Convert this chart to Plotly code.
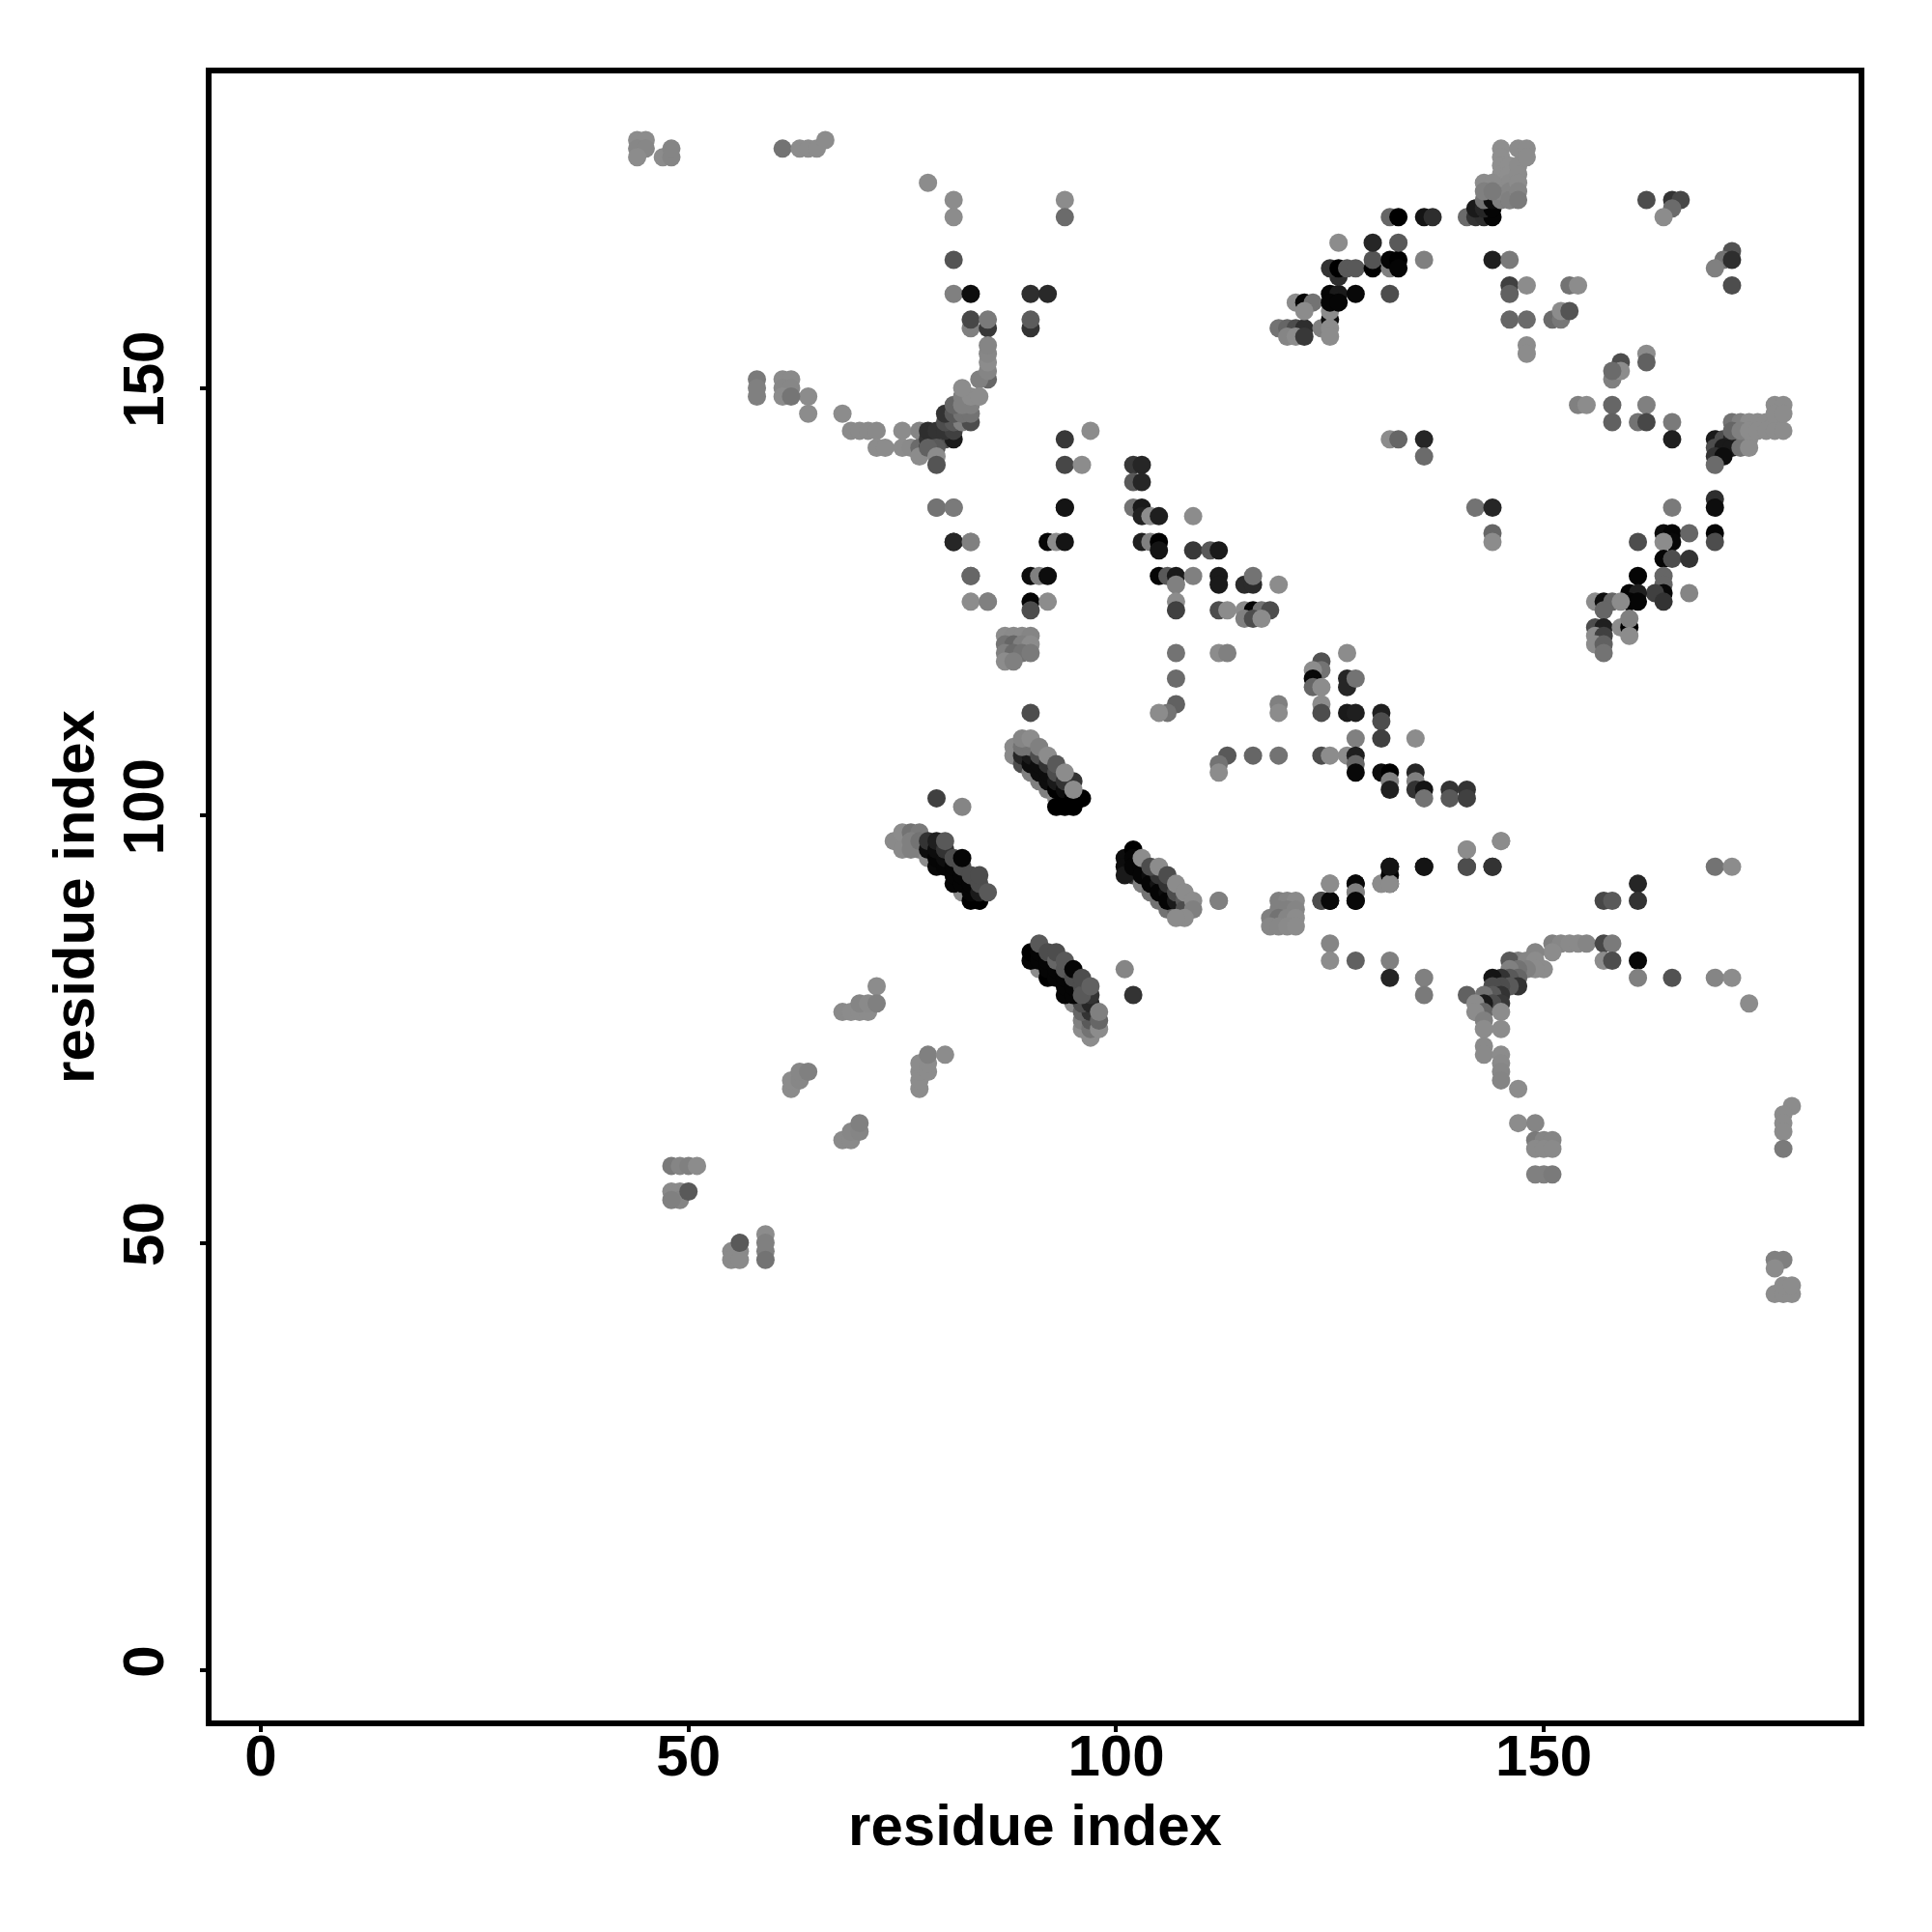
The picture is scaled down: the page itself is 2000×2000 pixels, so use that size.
import plotly.graph_objects as go

residue_x = [
 44,45,44,45,44,47,48,48, 61,63,64,65,66,
 78,81,81,81,81,83,90,92,94,94, 83,85,90,83,85,90, 85,84,85,85,85,85,
 69,70,71,72,75,77,72,73,75,76,77,68,64,64,58,58,58,61,62,61,62,61,62,
 78,79,80,81,78,79,80,81,78,79,77,78,79,79,80,81,82,83,80,81,82,83,81,82,83,82,83,84,82,
 94,94,96,97,79,81,94,81,83,83,85,
 119,120,121,122,120,121,122,124,125,125,125,125,121,122,123,122,125,126,125,126,128,132,
 126,125,126,127,128,130,130,130,132,132,133,133,133,136,126,
 132,133,136,137,141,142,143,144,142,143,144,143,144,145,146,
 145,145,145,145,145,145,146,146,146,146,146,147,147,147,147,147,147,148,148,143,144,143,144,
 144,146,146,146,148,153,154,146,148,151,152,152,153,148,148,
 162,165,166,165,164,172,171,172,170,172,162,162,159,158,159,158,154,155,158,162,158,161,162,165,165,
 132,133,136,136,
 170,171,172,173,174,170,171,172,173,174,170,171,170,172,173,174,175,176,177,172,173,174,175,176,177,178,177,178,177,178,
 142,144,144,144,165,170,170,170,170,161,164,165,165,164,167,164,165,167,
 161,164,164,164,163,164,167,160,161,160,161,
 156,157,158,159,157,156,157,159,160,160,160,156,157,156,157,157,
 102,103,102,103,102,103,103,104,105,109,103,104,105,105,109,111,112,
 105,106,107,107,109,112,112,115,116,116,119,
 107,107,112,113,115,116,117,118,115,116,117,107,107,112,113,
 83,81,83,83,85,79,81,90,91,92,92,93,94,90,90,92,94,
 87,88,89,90,87,88,89,90,87,88,89,90,87,88,
 127,124,124,123,123,123,124,127,127,128,107,106,105,90,119,119,124,124,127,128,131,131,128,131,135,
 113,112,112,116,119,124,125,127,128,128,128,131,132,132,132,135,135,135,136,136,139,139,141,141,
 141,145,141,144,136,132,132,131,132,128,128,128,125,125,124,112,
 88,88,89,90,91,92,93, 89,90,91,92,93,94, 90,91,92,93,94,95, 89,90,91,92,93,94, 93,94,95,96, 95,89,90,91,92,93,94,95,
 74,75,75,76,77,76,77,76,77, 78,82, 79,81,83,84, 78,79,80,81,82,83, 78,79,80,81,82,83,84, 79,80,81,82,83,84,85, 80,82,84, 79,82,
 102,103,104,105,106,107, 101,101,101,102,102,102,103,103,104,104,105,105,106,106,107, 105,106,107,108,108, 103,104,105,106,107,108,109,109,108,107,112,
 91,95, 97,96,96,97,97,96,97,96,97, 90,92,94, 90,91,92,93,94,95, 91,92,93,94,95, 91,92,93,94,95,96,97, 96, 93,94,95,96,97, 98,98,98,
 101,102,
 119,120,121,119,120,121,118,119,120,121,118,119,120,121,
 124,125,125,128,128,128,131,132,132,132,136,141,141,144,145,157,158,161,161,170,172,
 125,125,128,132,132,136,136,141,
 151,152,153,154,155,157,158,157,158,161,161,165,170,172,174,
 151,149,147,146,148,149,150,149,148,147,146,147,146,145,144,147,146,145,144,145,144,143,145,144,143,142,143,142,145,143,143,145,143,143,145,145,145,145,147,147,149,
 149,150,151,149,150,151,149,150,151, 179,178,178,178,178,
 177,178,177,177,178,179,178,179,
 48,49,50,51,48,49,49,48,50, 55,56,55,56,56,59,59,59,59,
 72,68,69,70,71,70,71,72, 77,77,77,77,78,78,78,80,
 62,62,63,63,64, 68,69,69,70,70,
]

residue_y = [
 179,179,178,178,177,177,177,178, 178,178,178,178,179,
 174,172,170,165,161,161,161,161,172,170, 157,157,157,158,158,158, 151,151,152,153,154,155,
 145,145,145,145,145,145,143,143,143,143,143,147,149,147,151,150,149,151,151,150,150,149,149,
 144,144,144,144,145,145,145,145,143,143,142,143,142,141,146,146,146,146,147,147,147,147,148,148,148,149,149,149,150,
 144,141,141,145,136,136,136,132,132,128,125,
 157,157,157,157,156,156,156,157,158,157,156,159,160,160,160,159,161,161,160,160,161,161,
 163,164,164,164,164,164,165,167,164,165,165,164,167,165,167,
 170,170,170,170,170,170,170,170,171,171,171,172,172,172,172,
 178,177,176,175,174,173,176,175,174,173,172,178,176,175,174,173,172,178,177,174,174,173,173,
 165,165,162,161,162,162,162,158,158,158,158,159,159,155,154,
 172,172,172,171,170,166,165,165,164,162,154,153,153,151,152,152,148,148,148,148,146,146,146,146,144,
 144,144,144,142,
 144,144,144,144,144,143,143,143,143,143,142,142,141,146,146,146,146,146,146,145,145,145,145,145,145,145,148,148,147,147,
 136,136,133,132,136,137,136,133,132,132,133,133,132,132,133,130,130,130,
 128,128,127,126,126,125,126,126,126,125,125,
 125,125,125,125,124,122,122,122,122,123,121,121,121,120,120,119,
 141,141,139,139,136,136,135,135,135,135,132,132,132,131,131,131,131,
 128,128,128,127,128,128,127,127,127,128,127,
 125,124,124,124,124,124,124,124,123,123,123,119,116,119,119,
 128,132,132,125,125,136,136,128,128,128,132,132,132,125,124,125,136,
 121,121,121,121,120,120,120,120,119,119,119,119,118,118,
 119,118,117,117,116,115,115,116,115,116,113,112,112,112,113,112,113,112,112,112,112,111,109,109,109,
 107,106,105,107,107,107,107,107,107,106,105,105,105,104,103,105,104,103,103,102,103,102,103,102,
 96,97,94,94,94,94,93,92,92,92,91,90,92,90,90,90,
 108,107,106,105,104,103,102, 107,106,105,104,103,102, 107,106,105,104,103,102, 108,108,107,106,105,104, 101,101,101,102, 104,109,109,108,107,106,105,103,
 97,98,96,98,98,96,96,97,97, 95,91, 94,92,90,90, 96,95,94,93,92,91, 97,96,95,94,93,92,91, 97,96,95,94,93,92,91, 97,95,93, 102,101,
 93,92,91,90,89,89, 95,94,93,96,95,94,94,93,93,92,92,91,91,90,90, 93,92,91,90,89, 95,94,94,93,92,91,90,89,88,88,90,
 82,78, 74,75,76,75,76,77,77,78,78, 83,81,79, 84,83,82,81,80,79, 84,83,82,81,80, 85,84,83,82,81,80,79, 79, 84,83,82,81,80, 75,76,77,
 82,79,
 90,90,90,89,89,89,88,88,88,88,87,87,87,87,
 90,90,92,92,91,90,92,93,92,94,94,94,96,94,97,90,90,92,90,94,94,
 85,83,83,83,81,81,79,79,
 85,85,85,85,85,85,85,83,83,83,81,81,81,81,78,
 84,84,83,83,83,83,82,82,82,82,82,81,81,81,81,80,80,80,80,79,79,79,78,78,78,78,77,77,77,76,75,75,73,72,72,71,70,69,68,64,64,
 62,62,62,61,61,61,58,58,58, 66,65,64,63,61,
 48,48,47,44,44,44,45,45,
 59,59,59,59,56,56,55,55,56, 49,49,48,48,50,51,50,49,48,
 80,77,77,77,77,78,78,78, 68,69,70,71,70,71,72,72,
 68,69,69,70,70, 62,62,63,63,64,
]

contact_shade = [
 .55,.55,.53,.53,.55,.55,.52,.52, .45,.55,.55,.55,.55,
 .55,.55,.55,.33,.50,.05,.18,.16,.55,.42, .50,.22,.20,.28,.48,.36, .40,.50,.52,.55,.53,.52,
 .54,.54,.54,.54,.55,.52,.55,.55,.55,.54,.42,.55,.55,.55,.48,.50,.50,.54,.54,.53,.53,.55,.46,
 .20,.25,.30,.10,.18,.20,.20,.25,.10,.35,.55,.38,.55,.33,.30,.35,.50,.30,.20,.35,.45,.45,.40,.50,.50,.50,.55,.55,.55,
 .22,.28,.55,.55,.45,.48,.08,.15,.50,.40,.55,
 .45,.40,.30,.18,.52,.55,.22,.50,.05,.55,.55,.55,.55,.02,.45,.55,.02,.10,.02,.02,.03,.30,
 .18,.20,.00,.35,.35,.00,.33,.15,.50,.02,.00,.02,.35,.50,.55,
 .40,.00,.08,.18,.42,.20,.18,.02,.10,.15,.02,.45,.05,.50,.45,
 .56,.56,.56,.56,.56,.52,.56,.56,.55,.52,.50,.55,.55,.55,.55,.52,.48,.55,.55,.55,.55,.50,.48,
 .12,.48,.25,.38,.55,.45,.55,.40,.42,.42,.47,.55,.33,.55,.55,
 .30,.20,.28,.42,.55,.32,.45,.18,.50,.30,.55,.38,.30,.50,.55,.42,.50,.55,.40,.50,.38,.45,.28,.48,.12,
 .55,.40,.15,.42,
 .10,.30,.15,.40,.55,.30,.10,.10,.45,.55,.20,.05,.42,.45,.50,.55,.55,.55,.55,.40,.50,.55,.55,.55,.55,.55,.55,.55,.55,.55,
 .45,.15,.40,.55,.48,.18,.05,.02,.30,.30,.05,.02,.03,.55,.40,.02,.30,.20,
 .02,.40,.40,.03,.25,.20,.52,.02,.12,.02,.02,
 .55,.05,.40,.55,.40,.30,.12,.55,.00,.50,.55,.55,.25,.55,.38,.45,
 .22,.15,.35,.15,.45,.10,.13,.55,.12,.55,.12,.50,.00,.08,.22,.35,.10,
 .02,.35,.10,.50,.50,.10,.10,.17,.17,.45,.55,
 .55,.25,.30,.55,.55,.02,.45,.30,.50,.30,.55,.45,.42,.55,.50,
 .40,.15,.50,.55,.50,.45,.48,.05,.50,.05,.02,.55,.08,.02,.30,.55,.08,
 .55,.54,.54,.52,.45,.40,.50,.55,.50,.42,.45,.48,.55,.50,
 .55,.32,.45,.55,.03,.40,.55,.15,.15,.45,.38,.45,.55,.30,.50,.55,.55,.30,.10,.12,.12,.30,.50,.25,.55,
 .35,.45,.55,.40,.45,.30,.55,.55,.12,.40,.03,.05,.00,.50,.12,.15,.50,.20,.08,.45,.20,.35,.20,.25,
 .55,.55,.30,.20,.08,.03,.55,.55,.03,.05,.50,.05,.55,.03,.30,.50,
 .54,.54,.30,.50,.50,.50,.55, .15,.05,.05,.05,.00,.00, .10,.05,.05,.10,.05,.00, .45,.45,.30,.20,.30,.20, .00,.00,.00,.00, .20,.52,.55,.50,.55,.35,.55,.55,
 .54,.55,.54,.45,.48,.50,.50,.50,.45, .55,.55, .03,.02,.00,.00, .05,.02,.02,.02,.02,.02, .20,.05,.05,.02,.02,.02,.10, .12,.20,.30,.30,.30,.30,.35, .35,.02,.30, .25,.52,
 .20,.50,.45,.45,.45,.40, .05,.05,.10,.00,.02,.02,.02,.02,.05,.02,.08,.02,.05,.02,.10, .20,.20,.30,.35,.30, .55,.30,.55,.30,.55,.55,.55,.50,.55,.55,.50,
 .55,.55, .55,.55,.50,.45,.35,.40,.20,.30,.15, .02,.00,.02, .00,.02,.02,.02,.02,.02, .02,.02,.02,.02,.02, .35,.30,.40,.35,.30,.30,.20, .35, .30,.35,.02,.30,.38, .55,.40,.50,
 .52,.20,
 .50,.52,.54,.50,.50,.52,.50,.45,.52,.55,.53,.53,.54,.55,
 .30,.03,.55,.03,.50,.03,.55,.02,.55,.08,.08,.30,.55,.20,.55,.28,.35,.15,.20,.45,.55,
 .52,.55,.38,.50,.15,.50,.48,.38,
 .50,.53,.54,.54,.52,.28,.48,.55,.30,.03,.50,.32,.52,.55,.55,
 .55,.52,.50,.35,.52,.55,.55,.55,.50,.45,.50,.40,.35,.20,.08,.20,.35,.30,.30,.20,.35,.45,.22,.30,.10,.55,.40,.55,.55,.50,.55,.55,.54,.54,.55,.54,.53,.52,.55,.55,.52,
 .48,.52,.52,.54,.54,.54,.50,.50,.48, .55,.55,.55,.55,.48,
 .50,.50,.55,.55,.55,.55,.55,.55,
 .48,.52,.50,.55,.54,.54,.52,.50,.35, .54,.54,.54,.54,.35,.55,.50,.50,.45,
 .55,.54,.55,.55,.55,.52,.54,.50, .55,.55,.55,.55,.55,.55,.50,.55,
 .55,.55,.53,.53,.50, .54,.54,.53,.52,.50,
]

tick_values = [0, 50, 100, 150]
tick_labels = ["0", "50", "100", "150"]
axis_label = "residue index"

text_font = dict(family="Liberation Sans, Arial, sans-serif", size=60, color="black")
x_axis_range = [-5.76, 186.8]
y_axis_range = [-5.88, 186.8]

fig = go.Figure(go.Scatter(
    x=residue_x, y=residue_y, mode="markers", hoverinfo="skip",
    marker=dict(size=19, color=contact_shade, cmin=0, cmax=1,
                colorscale=[[0, "#000000"], [1, "#ffffff"]], line=dict(width=0)),
))

def axis(**kw):
    return dict(tickmode="array", tickvals=tick_values, ticktext=[f"<b>{t}</b>" for t in tick_labels],
                tickfont=text_font, ticks="outside", ticklen=6, tickwidth=4, tickcolor="black",
                showline=True, linecolor="black", linewidth=6, mirror=True,
                showgrid=False, zeroline=False, automargin=False, **kw)

fig.update_layout(
    width=2000, height=2000, autosize=False, showlegend=False,
    paper_bgcolor="white", plot_bgcolor="white",
    margin=dict(l=211, r=84, t=68, b=227),
    xaxis=axis(range=x_axis_range, ticklabelstandoff=-27,
               title=dict(text=f"<b>{axis_label}</b>", font=text_font, standoff=20)),
    yaxis=axis(range=y_axis_range, tickangle=-90, ticklabelstandoff=14,
               title=dict(text=f"<b>{axis_label}</b>", font=text_font, standoff=0)),
)
assert len(residue_x) == len(residue_y) == len(contact_shade), (len(residue_x), len(residue_y), len(contact_shade))
fig.write_html("out.html")
